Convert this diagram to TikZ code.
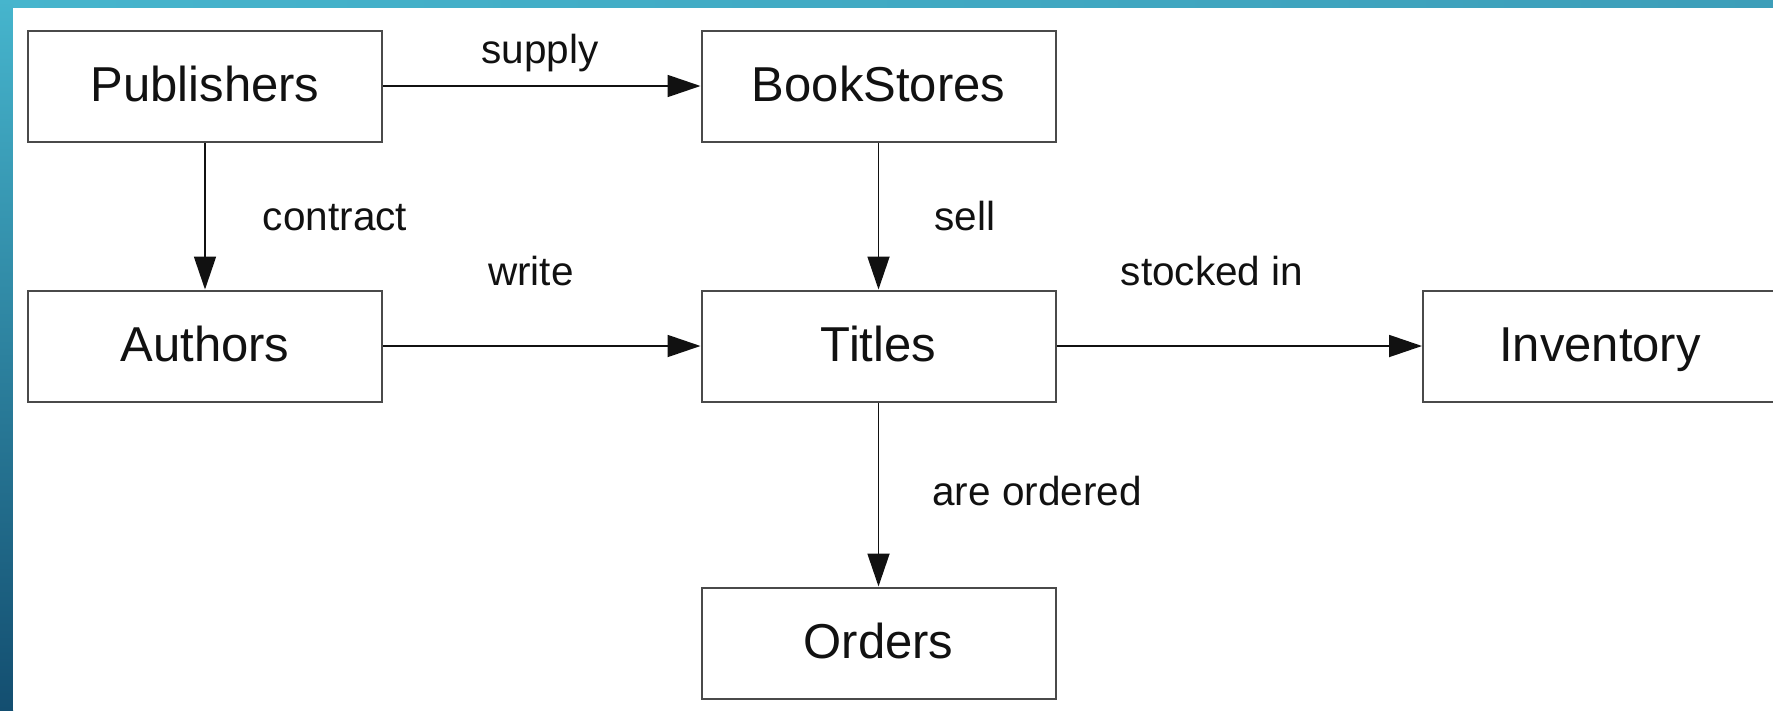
\documentclass[tikz,border=0pt]{standalone}
\usepackage{fontspec}
\setmainfont{Liberation Sans}
\usetikzlibrary{arrows.meta}
\definecolor{tealtop}{HTML}{46B5CD}
\definecolor{tealright}{HTML}{3D9EB9}
\definecolor{tealbottom}{HTML}{134E70}
\definecolor{boxline}{HTML}{4A4A4A}
\definecolor{ink}{HTML}{111111}
\tikzset{
  entity/.style={draw=boxline, line width=2pt, fill=white, rectangle,
    minimum width=354pt, minimum height=111pt, inner sep=0pt,
    text height=35pt, text depth=5pt,
    font=\fontsize{49}{56}\selectfont, text=ink},
  rel/.style={draw=ink, line width=1.8pt, -{Triangle[length=33pt,width=22pt]}},
  lbl/.style={font=\fontsize{40.5}{46}\selectfont, text=ink, inner sep=0pt, anchor=base}
}
\begin{document}
\begin{tikzpicture}[x=1pt,y=-1pt]
\useasboundingbox (0,0) rectangle (1773,710);
% frame: gradient strips on top and left
\shade[left color=tealtop, right color=tealright] (0,0) rectangle (1773,8);
\shade[top color=tealtop, bottom color=tealbottom] (0,0) rectangle (13,710);
\fill[white] (13,8) rectangle (1773,710);

% entities
\node[entity] (pub) at (205,86) {Publishers};
\node[entity] (book) at (878.5,86) {BookStores};
\node[entity] (auth) at (205,346) {Authors};
\node[entity] (tit) at (878.5,346) {Titles};
\node[entity] (inv) at (1600,346) {Inventory};
\node[entity] (ord) at (878.5,643) {Orders};

% relationships
\draw[rel] (pub) -- (book);
\draw[rel] (pub) -- (auth);
\draw[rel] (book) -- (tit);
\draw[rel] (auth) -- (tit);
\draw[rel] (tit) -- (inv);
\draw[rel] (tit) -- (ord);

% relationship labels (placed on their baselines)
\node[lbl] (lsupply) at (540,63) {supply};
\node[lbl] (lcontract) at (335,230) {contract};
\node[lbl] (lsell) at (965,230) {sell};
\node[lbl] (lwrite) at (531,285) {write};
\node[lbl] (lstocked) at (1212,285) {stocked in};
\node[lbl] (lordered) at (1037,505) {are ordered};
\end{tikzpicture}
\end{document}
